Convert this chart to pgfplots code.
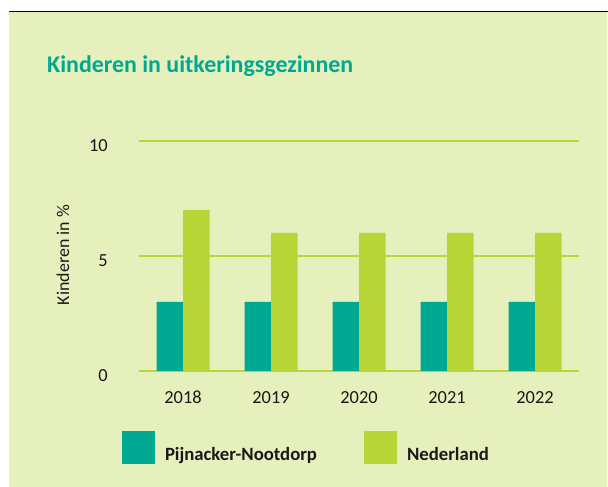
\documentclass[border=0pt]{standalone}
\usepackage{pgfplots}
\pgfplotsset{compat=1.18}
\usepackage{fontspec}
\setmainfont{Carlito}
\definecolor{tealc}{RGB}{0,168,145}
\definecolor{limec}{RGB}{185,214,56}
\definecolor{bgc}{RGB}{230,240,188}
\definecolor{txt}{RGB}{25,25,25}
\begin{document}
\begin{tikzpicture}[x=1bp,y=1bp]
\useasboundingbox (0,0) rectangle (608,487);
\fill[white] (0,0) rectangle (608,487);
\fill[bgc] (9,0) rectangle (607,475.5);
\draw[black, line width=1.3bp] (9,475.5) -- (608,475.5);
\node[anchor=base west, inner sep=0, font=\fontsize{24}{28}\selectfont\bfseries, text=tealc] at (47,414.3) {Kinderen in uitkeringsgezinnen};
\begin{axis}[
  at={(139bp,116bp)}, anchor=south west,
  scale only axis, width=440bp, height=230bp,
  xmin=-0.5, xmax=4.5, ymin=0, ymax=10,
  xtick={0,1,2,3,4}, xticklabels={2018,2019,2020,2021,2022},
  ytick={0,5,10},
  axis line style={draw=none}, major tick length=0,
  ymajorgrids, grid style={line width=2bp, color=limec},
  ybar=0pt, bar width=26.5bp,
  clip=false,
  /pgf/number format/assume math mode=true,
  tick label style={font=\fontsize{18.5}{21}\selectfont, text=txt},
  xticklabel style={inner sep=0, anchor=north, yshift=-20bp},
  yticklabel style={inner sep=0, anchor=east, xshift=-31bp, yshift=-5bp},
  ylabel={Kinderen in \%},
  every axis y label/.style={at={(axis description cs:-0.1727,0.504)}, rotate=90, anchor=center, font=\fontsize{18}{20}\selectfont, text=txt},
  legend columns=2,
  legend image code/.code={\fill[#1,/tikz/.cd] (0bp,-9bp) rectangle (33bp,24bp);},
  legend style={at={(rel axis cs:-0.03864,-0.2609)}, anchor=north west, draw=none, fill=none, inner sep=0, outer sep=0,
    nodes={inner sep=0, font=\fontsize{18.8}{21}\selectfont\bfseries, text=txt},
    /tikz/every odd column/.append style={column sep=10bp},
    /tikz/every even column/.append style={column sep=47bp}},
]
\addplot[fill=tealc, draw=none] coordinates {(0,3) (1,3) (2,3) (3,3) (4,3)};
\addplot[fill=limec, draw=none] coordinates {(0,7) (1,6) (2,6) (3,6) (4,6)};
\legend{Pijnacker-Nootdorp, Nederland}
\end{axis}
\end{tikzpicture}
\end{document}
